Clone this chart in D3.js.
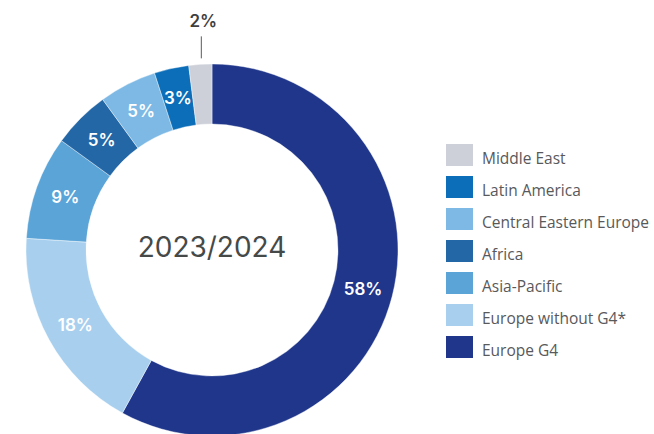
<!DOCTYPE html>
<html>
<head>
<meta charset="utf-8">
<script src="https://cdn.jsdelivr.net/npm/d3@7"></script>
<style>
  html, body { margin: 0; padding: 0; background: #ffffff; }
  svg { display: block; }
</style>
</head>
<body>
<svg id="chart" width="654" height="434"></svg>
<script>
// Revenue share by region, 2023/2024 (drawn clockwise from 12 o'clock)
const regions = ["Europe G4", "Europe without G4*", "Asia-Pacific", "Africa", "Central Eastern Europe", "Latin America", "Middle East"];
const shares = [58, 18, 9, 5, 5, 3, 2];
const palette = ["#1f368b", "#a8d0ee", "#5aa4d8", "#2467a6", "#7db9e4", "#0c6eb8", "#cdd0d9"];
const centerTitle = "2023/2024";

// Legend lists the regions in reverse drawing order
const legendOrder = regions.slice().reverse();

const svg = d3.select("#chart");
const cx = 212, cy = 250;
const outerR = 186, innerR = 126;

const color = d3.scaleOrdinal().domain(regions).range(palette);

const pie = d3.pie()
  .sort(null)
  .value(d => d.share)
  .startAngle(0)
  .endAngle(2 * Math.PI);

const data = regions.map((r, i) => ({ region: r, share: shares[i] }));
const arcs = pie(data);

const arc = d3.arc().innerRadius(innerR).outerRadius(outerR);

const g = svg.append("g").attr("transform", `translate(${cx},${cy})`);

g.selectAll("path.slice")
  .data(arcs)
  .join("path")
  .attr("class", "slice")
  .attr("d", arc)
  .attr("fill", d => color(d.data.region))
  .attr("stroke", "#ffffff")
  .attr("stroke-width", 0.4);

const labelFont = "Inter, 'Noto Sans', sans-serif";

// Share labels inside the ring (all but the smallest slice)
const inside = arcs.filter(d => d.data.share >= 3);
g.selectAll("text.share")
  .data(inside)
  .join("text")
  .attr("class", "share")
  .attr("transform", d => `translate(${arc.centroid(d)})`)
  .attr("text-anchor", "middle")
  .attr("dy", "0.36em")
  .attr("font-family", labelFont)
  .attr("font-weight", 600)
  .attr("font-size", 17)
  .attr("fill", "#ffffff")
  .text(d => d.data.share + "%");

// Smallest slice gets an outside label with a short leader
const small = arcs.filter(d => d.data.share < 3);
small.forEach(d => {
  const mid = (d.startAngle + d.endAngle) / 2;
  const x = Math.sin(mid) * outerR;
  const yTop = -Math.cos(mid) * outerR;
  g.append("line")
    .attr("x1", x + 1).attr("x2", x + 1)
    .attr("y1", yTop - 6).attr("y2", yTop - 28)
    .attr("stroke", "#5a5a5a")
    .attr("stroke-width", 1);
  g.append("text")
    .attr("x", x + 3)
    .attr("y", yTop - 37)
    .attr("text-anchor", "middle")
    .attr("font-family", labelFont)
    .attr("font-weight", 600)
    .attr("font-size", 17)
    .attr("fill", "#3f3f3f")
    .text(d.data.share + "%");
});

// Title in the hole
g.append("text")
  .attr("x", 0)
  .attr("y", 7)
  .attr("text-anchor", "middle")
  .attr("font-family", labelFont)
  .attr("font-weight", 400)
  .attr("font-size", 28)
  .attr("fill", "#454a49")
  .text(centerTitle);

// Legend
const legend = svg.append("g").attr("transform", "translate(446,144)");
const rows = legend.selectAll("g.row")
  .data(legendOrder)
  .join("g")
  .attr("class", "row")
  .attr("transform", (d, i) => `translate(0,${i * 32})`);

rows.append("rect")
  .attr("width", 27)
  .attr("height", 22)
  .attr("fill", d => color(d));

rows.append("text")
  .attr("x", 36)
  .attr("y", 20)
  .attr("font-family", "Open Sans, sans-serif")
  .attr("font-size", 15.5)
  .attr("fill", "#58595b")
  .text(d => d);
</script>
</body>
</html>
